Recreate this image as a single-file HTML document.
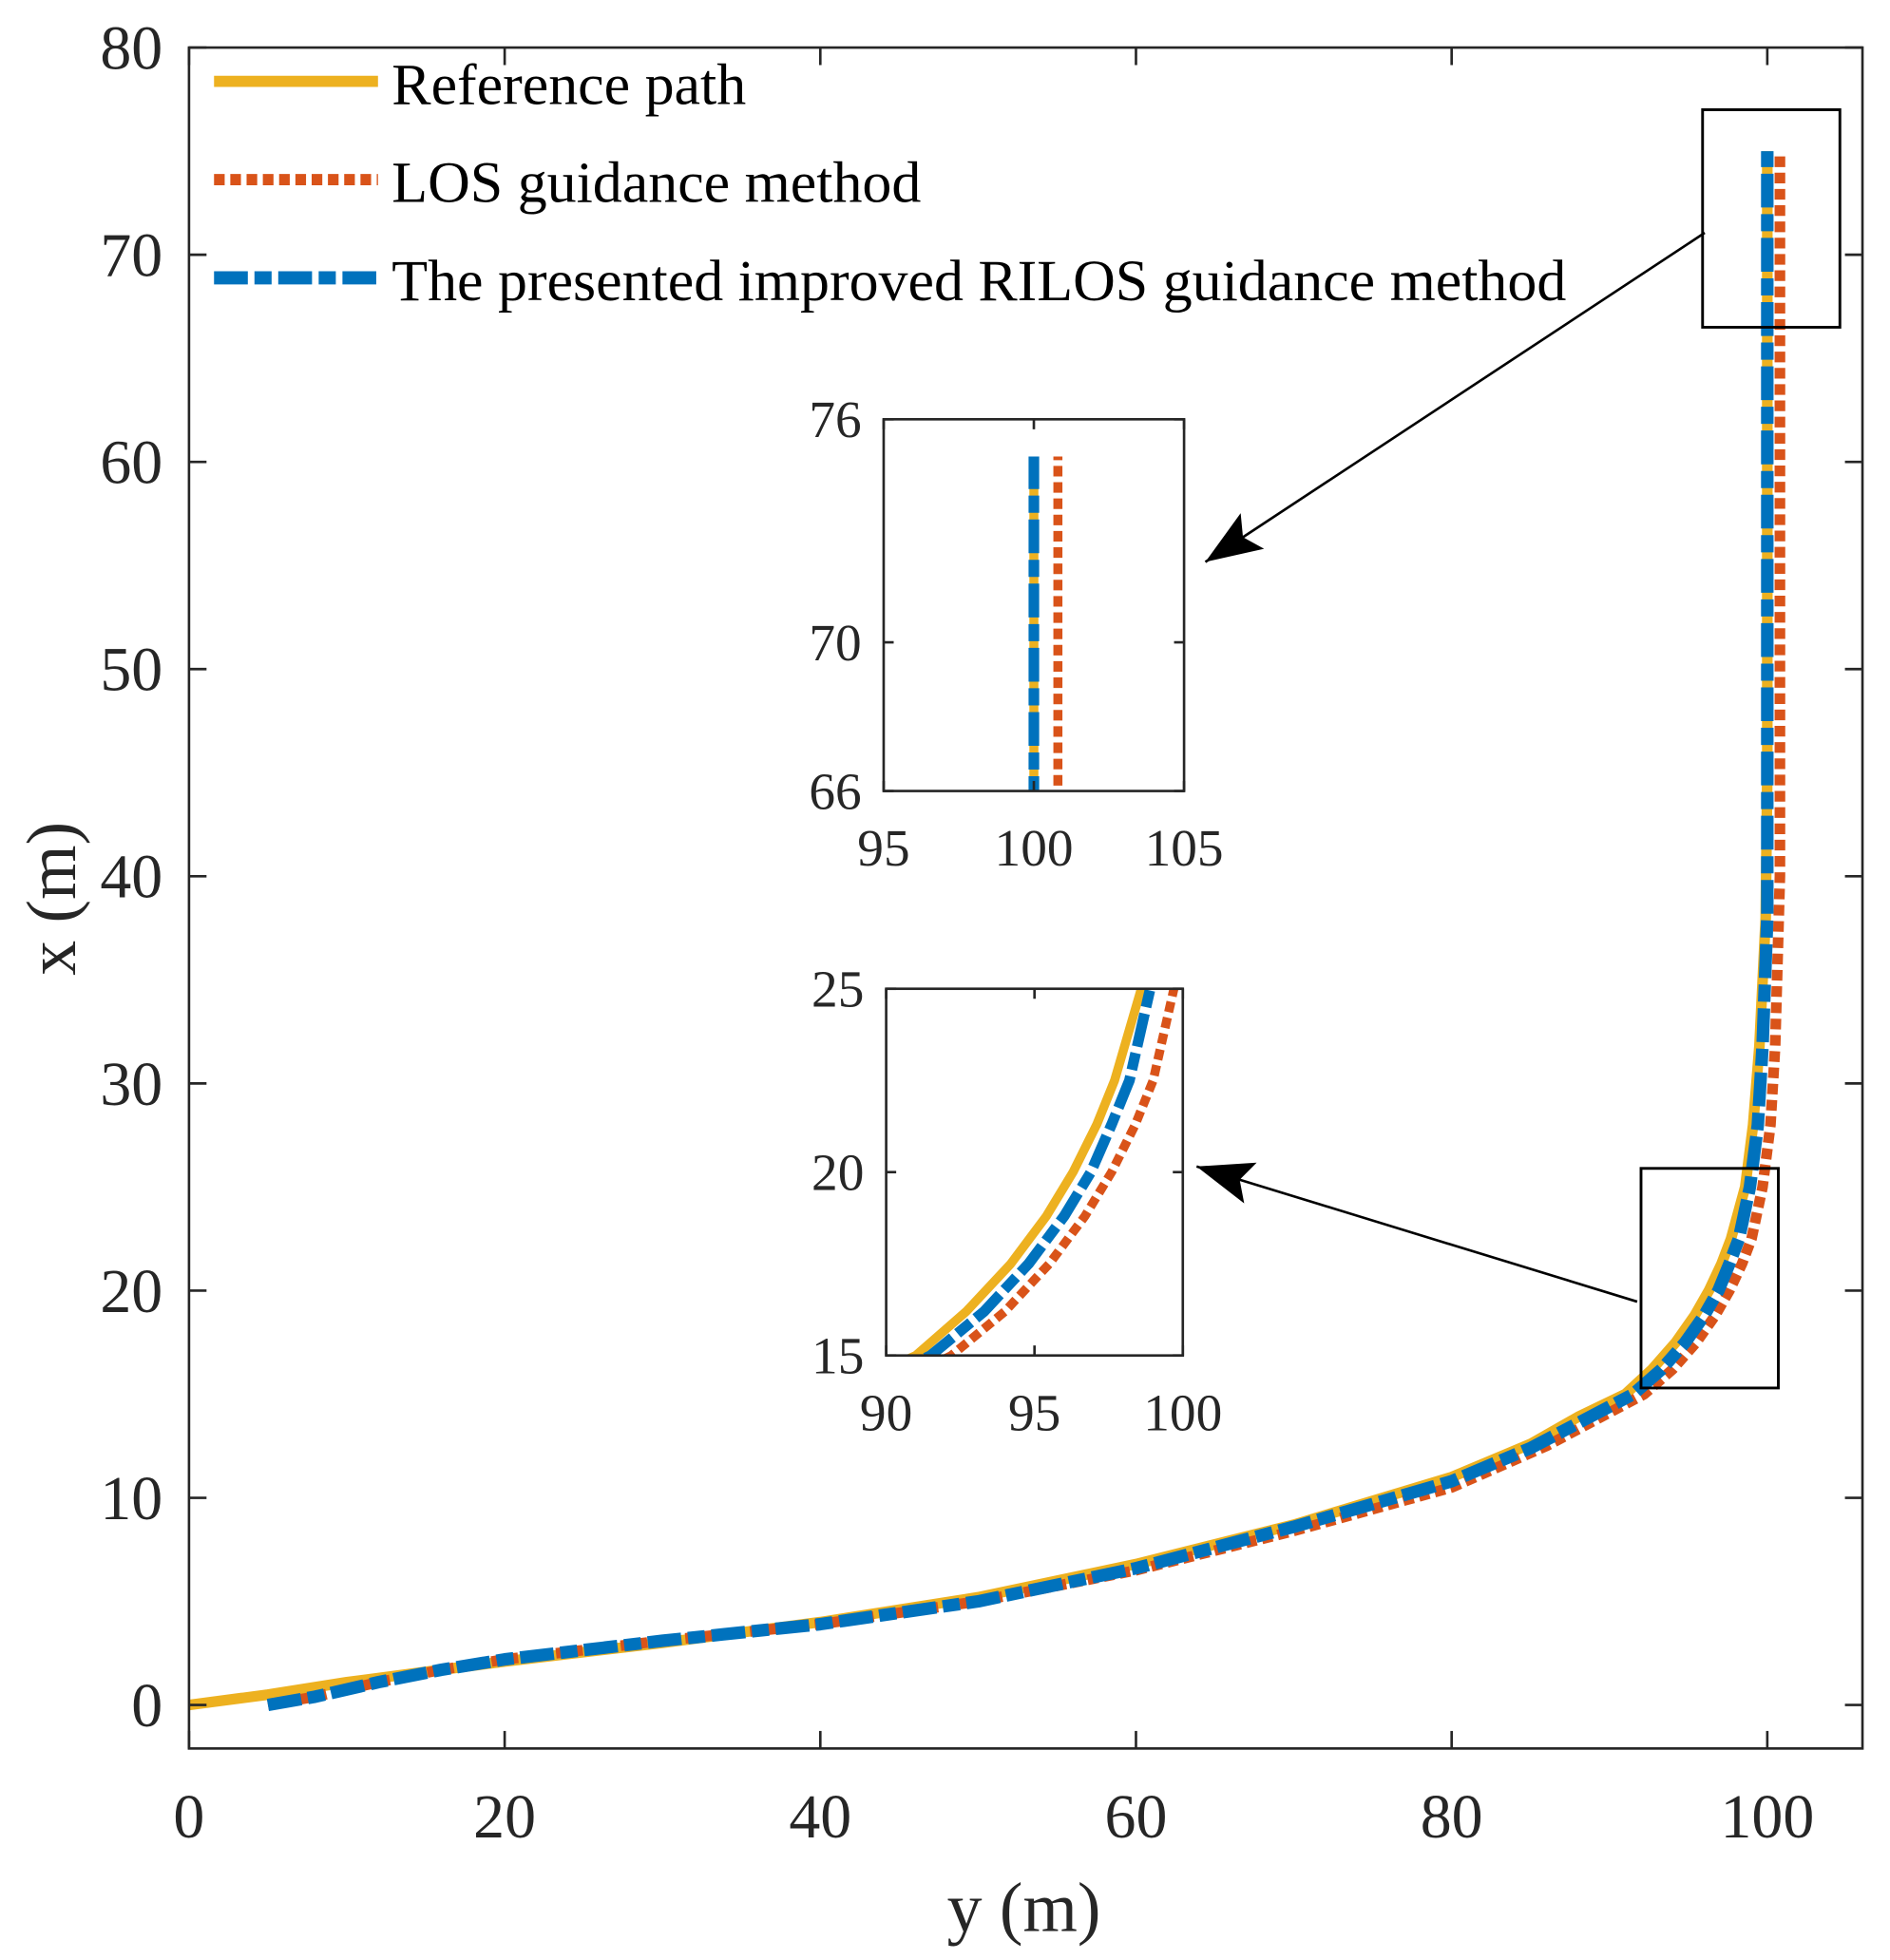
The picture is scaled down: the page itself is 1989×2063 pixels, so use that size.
<!DOCTYPE html>
<html><head><meta charset="utf-8"><style>
html,body{margin:0;padding:0;background:#fff;overflow:hidden;width:1989px;height:2063px;position:relative;}
svg{display:block;position:absolute;left:0;top:0;font-family:"Liberation Serif",serif;}
</style></head><body>
<svg id="chart" width="1989" height="2063" viewBox="0 0 1510 1566" preserveAspectRatio="none" xmlns="http://www.w3.org/2000/svg">
<defs>
<clipPath id="clipMain"><rect x="151" y="38" width="1337" height="1359"/></clipPath>
<clipPath id="clipIn1"><rect x="706" y="335" width="240" height="297"/></clipPath>
<clipPath id="clipIn2"><rect x="708" y="790" width="237" height="293"/></clipPath>
<marker id="arrowHead" markerWidth="48" markerHeight="36" refX="45" refY="0" orient="auto" markerUnits="userSpaceOnUse" viewBox="-1 -18 48 36">
<path d="M0,-17 L45,0 L0,17 L9,0 Z" fill="#000"/></marker>
</defs>
<g id="root"></g>
</svg>
<script>
// ---- data ----
const refY = [0,5,10,15,20,30,40,50,60,70,80,85,88,91,92.7,94.2,95.4,96.3,97.1,97.7,98.6,99.1,99.5,99.9,100,100];
const refX = [0,0.5,1.1,1.6,2.1,3.0,4.0,5.2,6.8,8.7,11,12.6,13.9,15,16.2,17.5,18.8,20,21.3,22.5,25,28,31.8,38,45,75];
const rilosY = [5,8,12,16,20,30,40,50,60,70,80,85,91.5,93.3,94.8,96,96.9,97.6,98.2,98.9,99.4,99.7,100,100];
const rilosX = [0,0.4,1.1,1.7,2.2,3.1,3.9,5.0,6.6,8.6,10.8,12.4,15,16.2,17.5,18.8,20,21.3,22.5,25,28,31.8,38,75];
const losY = [5,8,12,16,20,30,40,50,60,70,80,86,92.2,94,95.5,96.7,97.6,98.4,99,99.7,100.2,100.5,100.8,100.8];
const losX = [0,0.4,1.1,1.7,2.2,3.1,3.9,5.0,6.5,8.4,10.5,12.5,15,16.2,17.5,18.8,20,21.3,22.5,25,28,31.8,40,75];
const mainXTicks = [0,20,40,60,80,100];
const mainYTicks = [0,10,20,30,40,50,60,70,80];
const in1XTicks = [95,100,105];
const in1YTicks = [66,70,76];
const in2XTicks = [90,95,100];
const in2YTicks = [15,20,25];
const legendLabels = ["Reference path","LOS guidance method","The presented improved RILOS guidance method"];

const NS="http://www.w3.org/2000/svg";
const root=document.getElementById('root');
function mk(tag,attrs,parent){const e=document.createElementNS(NS,tag);for(const k in attrs)e.setAttribute(k,attrs[k]);(parent||root).appendChild(e);return e;}

function makeAxes(px0,px1,py0,py1,x0,x1,y0,y1){
  return {sx:v=>px0+(v-x0)/(x1-x0)*(px1-px0), sy:v=>py1-(v-y0)/(y1-y0)*(py1-py0), px0,px1,py0,py1};
}
const styles=[
  {name:'reference-path',stroke:'#EDB120',w:8.5,dash:null},
  {name:'los-path',stroke:'#D95319',w:8.5,dash:'8.5 4.5'},
  {name:'rilos-path',stroke:'#0072BD',w:10,dash:'27 5.3 13.7 5.3'}
];
function drawSeries(ax,clip,prefix,scaleW){
  const sets=[[refY,refX],[losY,losX],[rilosY,rilosX]];
  sets.forEach((s,i)=>{
    const d=s[0].map((v,j)=>(j?'L':'M')+ax.sx(v).toFixed(2)+','+ax.sy(s[1][j]).toFixed(2)).join(' ');
    const p=mk('path',{d,fill:'none',stroke:styles[i].stroke,'stroke-width':styles[i].w*scaleW,'clip-path':'url(#'+clip+')','stroke-linejoin':'round'});
    if(styles[i].dash)p.setAttribute('stroke-dasharray',styles[i].dash);
    
    
  });
}
function drawFrame(ax,xt,yt,fs,tl,prefix){
  const r=mk('rect',{x:ax.px0,y:ax.py0,width:ax.px1-ax.px0,height:ax.py1-ax.py0,fill:'none',stroke:'#262626','stroke-width':2});
  
  
  xt.forEach(v=>{const x=ax.sx(v);
    mk('line',{x1:x,x2:x,y1:ax.py1,y2:ax.py1-tl,stroke:'#262626','stroke-width':2});
    mk('line',{x1:x,x2:x,y1:ax.py0,y2:ax.py0+tl,stroke:'#262626','stroke-width':2});
    const t=mk('text',{x:x,y:ax.py1+fs*1.42,'font-size':fs,'text-anchor':'middle',fill:'#262626'});t.textContent=v;
    
    
  });
  yt.forEach(v=>{const y=ax.sy(v);
    mk('line',{x1:ax.px0,x2:ax.px0+tl,y1:y,y2:y,stroke:'#262626','stroke-width':2});
    mk('line',{x1:ax.px1,x2:ax.px1-tl,y1:y,y2:y,stroke:'#262626','stroke-width':2});
    const t=mk('text',{x:ax.px0-fs*0.42,y:y+fs*0.34,'font-size':fs,'text-anchor':'end',fill:'#262626'});t.textContent=v;
    
    
  });
}
// main axes
const main=makeAxes(151,1488,38,1397,0,106.03,-2.1,80);
drawSeries(main,'clipMain','main',1);
drawFrame(main,mainXTicks,mainYTicks,50,14,'main');

function zoomRect(xa,xb,ya,yb,name){
  const r=mk('rect',{x:main.sx(xa),y:main.sy(yb),width:main.sx(xb)-main.sx(xa),height:main.sy(ya)-main.sy(yb),fill:'none',stroke:'#000','stroke-width':2.2});
  
  
}
zoomRect(95.9,104.6,66.5,77,'zoom-box-top');
zoomRect(92.0,100.7,15.3,25.9,'zoom-box-bottom');
const a1=mk('line',{x1:1362,y1:186,x2:963,y2:449,stroke:'#000','stroke-width':2,'marker-end':'url(#arrowHead)'});


const a2=mk('line',{x1:1308,y1:1040,x2:956,y2:932,stroke:'#000','stroke-width':2,'marker-end':'url(#arrowHead)'});



// inset 1
const in1=makeAxes(706,946,335,632,95,105,66,76);
mk('rect',{x:706,y:335,width:240,height:297,fill:'#fff'});
drawSeries(in1,'clipIn1','inset-top',0.85);
drawFrame(in1,in1XTicks,in1YTicks,42,8,'inset-top');
// inset 2
const in2=makeAxes(708,945,790,1083,90,100,15,25);
mk('rect',{x:708,y:790,width:237,height:293,fill:'#fff'});
drawSeries(in2,'clipIn2','inset-bottom',0.85);
drawFrame(in2,in2XTicks,in2YTicks,42,8,'inset-bottom');

// legend
legendLabels.forEach((lab,i)=>{
  const y=65+i*78.5;
  const l=mk('line',{x1:171,x2:302,y1:y,y2:y,stroke:styles[i].stroke,'stroke-width':styles[i].w+0.5});
  if(styles[i].dash)l.setAttribute('stroke-dasharray',styles[i].dash);
  
  
  const t=mk('text',{x:313,y:y+18,'font-size':47,fill:'#000'});t.textContent=lab;
  
  
});

// axis titles
const xt=mk('text',{x:818,y:1543,'font-size':56,'text-anchor':'middle',fill:'#262626'});xt.textContent='y (m)';


const yt=mk('text',{x:0,y:0,'font-size':56,'text-anchor':'middle',fill:'#262626',transform:'translate(60,718) rotate(-90)'});yt.textContent='x (m)';


</script>
</body></html>
